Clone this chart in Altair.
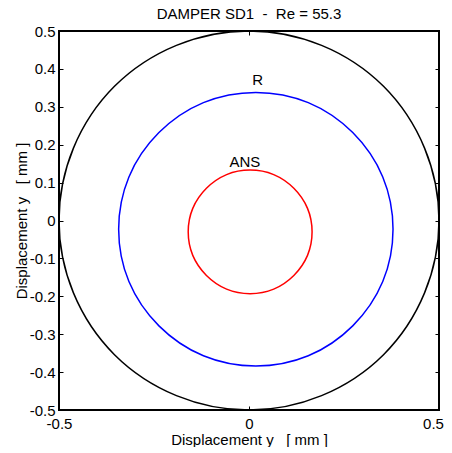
import altair as alt
import pandas as pd

# ---- data ----
black_x = [0.5, 0.462, 0.354, 0.191, 0.0, -0.191, -0.354, -0.462, -0.5, -0.462, -0.354, -0.191, 0.0, 0.191, 0.354, 0.462]
black_y = [0.0, 0.191, 0.354, 0.462, 0.5, 0.462, 0.354, 0.191, 0.0, -0.191, -0.354, -0.462, -0.5, -0.462, -0.354, -0.191]

blue_x = [0.379, 0.352, 0.273, 0.156, 0.018, -0.120, -0.237, -0.316, -0.343, -0.316, -0.237, -0.120, 0.018, 0.156, 0.273, 0.352]
blue_y = [-0.023, 0.115, 0.232, 0.311, 0.338, 0.311, 0.232, 0.115, -0.023, -0.161, -0.278, -0.357, -0.384, -0.357, -0.278, -0.161]

red_x = [0.166, 0.154, 0.118, 0.065, 0.003, -0.059, -0.112, -0.148, -0.160, -0.148, -0.112, -0.059, 0.003, 0.065, 0.118, 0.154]
red_y = [-0.030, 0.032, 0.085, 0.121, 0.133, 0.121, 0.085, 0.032, -0.030, -0.092, -0.145, -0.181, -0.193, -0.181, -0.145, -0.092]

label_text = ["R", "ANS"]
label_x = [0.023, -0.011]
label_y = [0.372, 0.155]

x_ticks = [-0.5, 0.0, 0.5]
y_ticks = [-0.5, -0.4, -0.3, -0.2, -0.1, 0.0, 0.1, 0.2, 0.3, 0.4, 0.5]

title_text = "DAMPER SD1\u00a0\u00a0-\u00a0\u00a0Re = 55.3"
axis_title = "Displacement y\u00a0\u00a0\u00a0[ mm ]"

FONT = "Liberation Sans"
FS = 15


def curve(xs, ys):
    return pd.DataFrame({"x": xs, "y": ys, "i": list(range(len(xs)))})


xscale = alt.Scale(domain=[-0.5, 0.5], nice=False, zero=False)
yscale = alt.Scale(domain=[-0.5, 0.5], nice=False, zero=False)

lab_expr = "replace(format(datum.value, ''), '\u2212', '-')"

# label axes (no ticks)
x_lab_axis = alt.Axis(values=x_ticks, ticks=False, domain=False, grid=False, labelPadding=6,
                      labelExpr=lab_expr, labelFlush=False, title=axis_title, titlePadding=1,
                      labelOverlap=False,
                      labelOffset={"condition": {"test": "datum.value > 0.4", "value": -6}, "value": 0})
y_lab_axis = alt.Axis(values=y_ticks, ticks=False, domain=False, grid=False, labelPadding=4,
                      labelExpr=lab_expr, labelFlush=False, title=axis_title, titlePadding=0,
                      labelOverlap=False)


def tick_axis(vals, orient):
    return alt.Axis(values=vals, orient=orient, offset=-4, tickSize=4, ticks=True, labels=False,
                    domain=False, grid=False, title=None, tickColor="black", tickWidth=1)


def line_layer(df, color, xaxis, yaxis, width):
    return alt.Chart(df).mark_line(color=color, strokeWidth=width, interpolate="cardinal-closed").encode(
        x=alt.X("x:Q", scale=xscale, axis=xaxis),
        y=alt.Y("y:Q", scale=yscale, axis=yaxis),
        order="i:Q",
    )


black = line_layer(curve(black_x, black_y), "black", x_lab_axis, y_lab_axis, 1.5)
blue = line_layer(curve(blue_x, blue_y), "#0000ff", tick_axis(x_ticks, "bottom"), tick_axis(y_ticks, "left"), 1.5)
red = line_layer(curve(red_x, red_y), "#ff0000", tick_axis(x_ticks, "top"), tick_axis(y_ticks, "right"), 1.5)

labels = alt.Chart(pd.DataFrame({"t": label_text, "x": label_x, "y": label_y})).mark_text(
    font=FONT, fontSize=FS, color="black", align="center", baseline="middle"
).encode(
    x=alt.X("x:Q", scale=xscale, axis=None),
    y=alt.Y("y:Q", scale=yscale, axis=None),
    text="t:N",
)

chart = (
    alt.layer(black, blue, red, labels)
    .resolve_axis(x="independent", y="independent")
    .properties(
        width=380,
        height=379,
        title=alt.TitleParams(title_text, fontSize=FS, fontWeight="normal", font=FONT, color="black", offset=2),
        autosize=alt.AutoSizeParams(type="none"),
        padding={"left": 51, "top": 23, "right": 5, "bottom": 37},
        background="white",
    )
    .configure_view(stroke="black", strokeWidth=2)
    .configure_axis(labelFont=FONT, labelFontSize=FS, labelColor="black", titleFont=FONT,
                    titleFontSize=FS, titleFontWeight="normal", titleColor="black")
)

chart.save("out.html", embed_options={"renderer": "svg", "actions": False})
